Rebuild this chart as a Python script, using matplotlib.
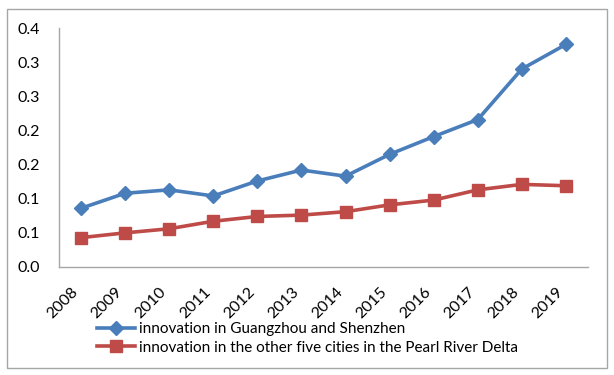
import matplotlib
matplotlib.use("Agg")
import matplotlib.pyplot as plt
from matplotlib.patches import Rectangle

years = ["2008", "2009", "2010", "2011", "2012", "2013", "2014", "2015", "2016", "2017", "2018", "2019"]
gz_sz = [0.086, 0.108, 0.113, 0.104, 0.126, 0.142, 0.133, 0.165, 0.191, 0.216, 0.290, 0.326]
other_five = [0.043, 0.050, 0.056, 0.067, 0.074, 0.076, 0.081, 0.091, 0.098, 0.113, 0.121, 0.119]
y_ticks = [0.0, 0.05, 0.10, 0.15, 0.20, 0.25, 0.30, 0.35]
y_tick_labels = ["0.0", "0.1", "0.1", "0.2", "0.2", "0.3", "0.3", "0.4"]
series_names = ["innovation in Guangzhou and Shenzhen",
                "innovation in the other five cities in the Pearl River Delta"]

plt.rcParams['font.family'] = ['Lato', 'DejaVu Sans']

fig = plt.figure(figsize=(6.14, 3.75), dpi=100)
ax = fig.add_axes([59/614, 1-267/375, (588-59)/614, (267-28)/375])

x = list(range(len(years)))
ax.plot(x, gz_sz, color="#4A7EBB", lw=2.6, marker="D", ms=7.5, label=series_names[0])
ax.plot(x, other_five, color="#BE4B48", lw=2.6, marker="s", ms=8.5, label=series_names[1])

ax.set_xlim(-0.5, len(years) - 0.5)
ax.set_ylim(0, 0.35)
ax.set_yticks(y_ticks)
ax.set_yticklabels(y_tick_labels, fontsize=11.5)
ax.set_xticks(x)
ax.set_xticklabels(years, rotation=45, ha="right", fontsize=11.5)
ax.tick_params(axis="y", length=0, pad=14)
ax.tick_params(axis="x", length=0, pad=13)
for lbl in ax.get_xticklabels():
    lbl.set_x(lbl.get_position()[0])

for s in ["top", "right"]:
    ax.spines[s].set_visible(False)
for s in ["left", "bottom"]:
    ax.spines[s].set_color("#A6A6A6")
    ax.spines[s].set_linewidth(1.0)

leg = fig.legend(loc="upper left", bbox_to_anchor=(97/614, 1-322/375), frameon=False,
                 fontsize=11, handlelength=2.5, handletextpad=0.25, labelspacing=0.3,
                 borderaxespad=0, borderpad=0)

fig.patches.append(Rectangle((7/614, 1-368/375), 600/614, 359/375, transform=fig.transFigure,
                             fill=False, edgecolor="#A6A6A6", lw=1.0))

fig.savefig("out.png", dpi=100)
